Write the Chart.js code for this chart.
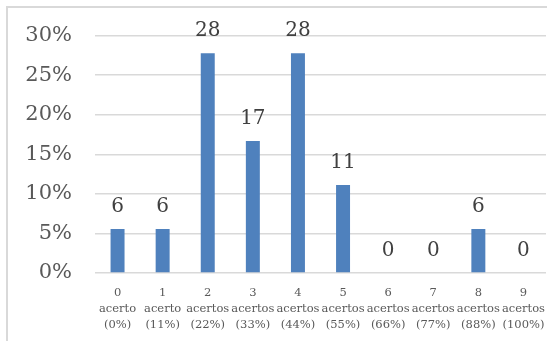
<!DOCTYPE html>
<html>
<head>
<meta charset="utf-8">
<script src="https://cdn.jsdelivr.net/npm/chart.js@4/dist/chart.umd.min.js"></script>
<style>
  body { margin: 0; background: #fff; }
  #wrap { position: relative; width: 547px; height: 341px; overflow: hidden; }
  #frame { position: absolute; left: 6px; top: 6px; width: 600px; height: 400px; border: 2px solid #d9d9d9; }
  #myChart { position: absolute; left: 0; top: 0; }
</style>
</head>
<body>
<div id="wrap">
  <div id="frame"></div>
  <canvas id="myChart" width="547" height="341"></canvas>
</div>
<script>
// categories (number of correct answers)
var categorias = [
  ['0', 'acerto', '(0%)'],
  ['1', 'acerto', '(11%)'],
  ['2', 'acertos', '(22%)'],
  ['3', 'acertos', '(33%)'],
  ['4', 'acertos', '(44%)'],
  ['5', 'acertos', '(55%)'],
  ['6', 'acertos', '(66%)'],
  ['7', 'acertos', '(77%)'],
  ['8', 'acertos', '(88%)'],
  ['9', 'acertos', '(100%)']
];

// share of students, in percent
var percentuais = [5.56, 5.56, 27.78, 16.67, 27.78, 11.11, 0, 0, 5.56, 0];

// y tick values
var ticksY = [0, 5, 10, 15, 20, 25, 30];

// draws the rounded value above each bar
var rotulos = {
  id: 'rotulos',
  afterDatasetsDraw: function(chart) {
    var ctx = chart.ctx;
    var meta = chart.getDatasetMeta(0);
    ctx.save();
    ctx.font = '20px "DejaVu Serif"';
    ctx.fillStyle = '#404040';
    ctx.textAlign = 'center';
    ctx.textBaseline = 'alphabetic';
    for (var i = 0; i < meta.data.length; i++) {
      var bar = meta.data[i];
      ctx.fillText(Math.round(percentuais[i]), bar.x, bar.y - 17);
    }
    ctx.restore();
  }
};

var ctx = document.getElementById('myChart').getContext('2d');
var chart = new Chart(ctx, {
  type: 'bar',
  data: {
    labels: categorias,
    datasets: [{
      data: percentuais,
      backgroundColor: '#4f81bd',
      barPercentage: 0.31,
      categoryPercentage: 1
    }]
  },
  options: {
    responsive: false,
    animation: false,
    layout: { padding: { left: 0, right: 1, top: 25, bottom: 0 } },
    plugins: {
      legend: { display: false },
      tooltip: { enabled: false }
    },
    scales: {
      x: {
        grid: { display: false },
        border: { display: false },
        afterFit: function(axis) {
          axis.height = 68;
          axis.paddingLeft = 0;
          axis.paddingRight = 0;
        },
        ticks: {
          color: '#595959',
          font: { family: '"DejaVu Serif"', size: 11.5, lineHeight: '16px' },
          maxRotation: 0,
          minRotation: 0,
          autoSkip: false,
          padding: 4
        }
      },
      y: {
        min: 0,
        max: 30,
        afterBuildTicks: function(axis) {
          axis.ticks = ticksY.map(function(v) { return { value: v }; });
        },
        afterFit: function(axis) { axis.width = 95; },
        grid: { color: '#d9d9d9', lineWidth: 1.5, drawTicks: false },
        border: { display: false },
        ticks: {
          color: '#595959',
          font: { family: '"DejaVu Serif"', size: 21 },
          padding: 23,
          callback: function(v) { return v + '%'; }
        }
      }
    }
  },
  plugins: [rotulos]
});
</script>
</body>
</html>
